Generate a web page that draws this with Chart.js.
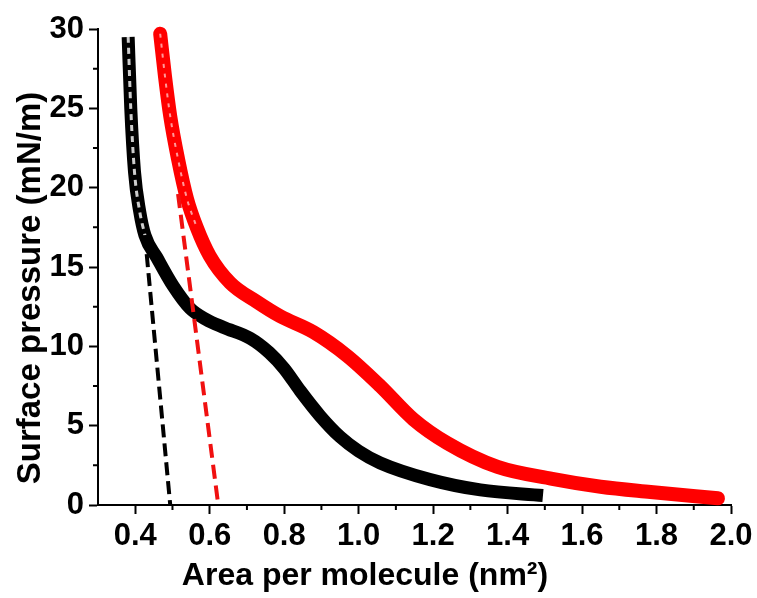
<!DOCTYPE html>
<html>
<head>
<meta charset="utf-8">
<script src="https://cdn.jsdelivr.net/npm/chart.js@4.4.0/dist/chart.umd.min.js"></script>
<style>
  html, body { margin: 0; background: #fff; }
  #wrap { width: 757px; height: 598px; }
</style>
</head>
<body>
<div id="wrap"><canvas id="isotherm"></canvas></div>
<script>
// isotherm (area in nm2, pressure in mN/m)
const blackArea = [0.381, 0.388, 0.398, 0.412, 0.426, 0.458, 0.502, 0.547, 0.590, 0.636, 0.709, 0.760, 0.800, 0.843, 0.897, 0.950, 1.000, 1.058, 1.192, 1.327, 1.495];
const blackPressure = [29.5, 25.0, 21.0, 18.5, 17.0, 15.6, 13.8, 12.4, 11.7, 11.2, 10.5, 9.6, 8.6, 7.2, 5.6, 4.3, 3.4, 2.65, 1.6, 0.95, 0.6];

const redArea = [0.467, 0.480, 0.494, 0.515, 0.539, 0.565, 0.600, 0.655, 0.727, 0.789, 0.878, 0.969, 1.058, 1.147, 1.238, 1.373, 1.520, 1.650, 1.784, 1.965];
const redPressure = [29.7, 27.0, 24.5, 21.8, 19.3, 17.5, 15.7, 14.0, 12.8, 11.9, 10.9, 9.4, 7.5, 5.4, 3.9, 2.4, 1.65, 1.15, 0.82, 0.42];

// steep part where the open markers still show
const blackOpenCount = 5;
const redOpenCount = 6;

// extrapolation lines of the condensed part
const blackFitArea = [0.426, 0.494];
const blackFitPressure = [17.0, 0];
const redFitArea = [0.515, 0.623];
const redFitPressure = [19.6, 0];

const xTicks = [0.4, 0.6, 0.8, 1.0, 1.2, 1.4, 1.6, 1.8, 2.0];
const xMinor = [0.5, 0.7, 0.9, 1.1, 1.3, 1.5, 1.7, 1.9];
const yTicks = [0, 5, 10, 15, 20, 25, 30];
const yMinor = [2.5, 7.5, 12.5, 17.5, 22.5, 27.5];

const xTitle = 'Area per molecule (nm²)';
const yTitle = 'Surface pressure (mN/m)';

const toPoints = (xs, ys) => xs.map((x, i) => ({ x: x, y: ys[i] }));

const fontFamily = "'Liberation Sans', Arial, sans-serif";

// kleine Striche zwischen den Hauptticks + Achsentitel (nicht mittig wie bei Chart.js)
const axisExtras = {
    id: 'axisExtras',
    afterDraw(chart) {
        const { ctx, scales: { x, y } } = chart;
        ctx.save();
        ctx.strokeStyle = '#000';
        ctx.lineWidth = 2;
        ctx.beginPath();
        xMinor.forEach(v => {
            const px = x.getPixelForValue(v);
            ctx.moveTo(px, x.top);
            ctx.lineTo(px, x.top + 5);
        });
        yMinor.forEach(v => {
            const py = y.getPixelForValue(v);
            ctx.moveTo(y.right, py);
            ctx.lineTo(y.right - 5, py);
        });
        ctx.stroke();

        ctx.fillStyle = '#000';
        ctx.textAlign = 'center';
        ctx.textBaseline = 'middle';
        ctx.font = 'bold 32px ' + fontFamily;
        ctx.fillText(xTitle, 365, 576);

        ctx.translate(31, 288);
        ctx.rotate(-Math.PI / 2);
        ctx.font = 'bold 33px ' + fontFamily;
        ctx.fillText(yTitle, 0, 0);
        ctx.restore();
    }
};

new Chart(document.getElementById('isotherm'), {
    type: 'scatter',
    data: {
        datasets: [
            {
                data: toPoints(blackFitArea, blackFitPressure),
                showLine: true,
                borderColor: '#000',
                borderWidth: 4,
                borderDash: [13, 6],
                pointRadius: 0
            },
            {
                data: toPoints(redFitArea, redFitPressure),
                showLine: true,
                borderColor: '#f01010',
                borderWidth: 4,
                borderDash: [14, 7],
                pointRadius: 0
            },
            {
                // helle Innenseite der offenen Symbole oben
                data: toPoints(blackArea.slice(0, blackOpenCount), blackPressure.slice(0, blackOpenCount)),
                showLine: true,
                borderColor: 'rgba(255,255,255,0.8)',
                borderWidth: 3,
                borderDash: [6, 5],
                cubicInterpolationMode: 'monotone',
                pointRadius: 0,
                clip: false
            },
            {
                data: toPoints(redArea.slice(0, redOpenCount), redPressure.slice(0, redOpenCount)),
                showLine: true,
                borderColor: 'rgba(255,255,255,0.6)',
                borderWidth: 2,
                borderDash: [4, 6],
                cubicInterpolationMode: 'monotone',
                pointRadius: 0,
                clip: false
            },
            {
                data: toPoints(blackArea, blackPressure),
                showLine: true,
                borderColor: '#000',
                borderWidth: 13,
                borderCapStyle: 'butt',
                cubicInterpolationMode: 'monotone',
                pointRadius: 0,
                clip: false
            },
            {
                data: toPoints(redArea, redPressure),
                showLine: true,
                borderColor: '#ff0000',
                borderWidth: 14,
                borderCapStyle: 'round',
                cubicInterpolationMode: 'monotone',
                pointRadius: 0,
                clip: false
            }
        ]
    },
    options: {
        responsive: true,
        maintainAspectRatio: false,
        animation: false,
        layout: { padding: { top: 29, right: 26, left: 0, bottom: 0 } },
        plugins: {
            legend: { display: false },
            tooltip: { enabled: false }
        },
        scales: {
            x: {
                type: 'linear',
                min: 0.3,
                max: 2.0,
                afterBuildTicks: scale => { scale.ticks = xTicks.map(v => ({ value: v })); },
                afterFit: scale => { scale.height = 93; },
                border: { display: true, color: '#000', width: 2 },
                grid: { drawOnChartArea: false, drawTicks: true, tickLength: 9, tickWidth: 2, tickColor: '#000' },
                ticks: {
                    color: '#000',
                    padding: 4,
                    maxRotation: 0,
                    autoSkip: false,
                    font: { family: fontFamily, size: 31, weight: 'bold' },
                    callback: v => v.toFixed(1)
                },
                title: { display: false }
            },
            y: {
                type: 'linear',
                min: 0,
                max: 30,
                afterBuildTicks: scale => { scale.ticks = yTicks.map(v => ({ value: v })); },
                afterFit: scale => { scale.width = 98; },
                border: { display: true, color: '#000', width: 2 },
                grid: { drawOnChartArea: false, drawTicks: true, tickLength: 9, tickWidth: 2, tickColor: '#000' },
                ticks: {
                    color: '#000',
                    padding: 5,
                    autoSkip: false,
                    font: { family: fontFamily, size: 31, weight: 'bold' },
                    callback: v => String(v)
                },
                title: { display: false }
            }
        }
    },
    plugins: [axisExtras]
});
</script>
</body>
</html>
